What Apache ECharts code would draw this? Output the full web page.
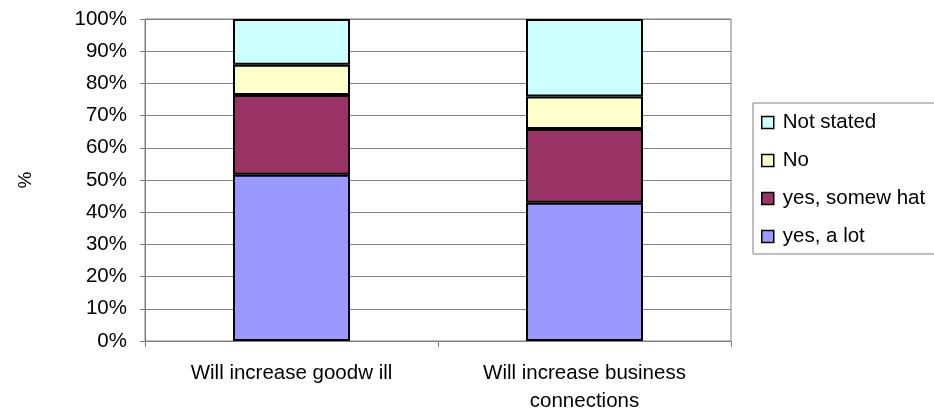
<!DOCTYPE html>
<html>
<head>
<meta charset="utf-8">
<script src="https://cdn.jsdelivr.net/npm/echarts@6/dist/echarts.min.js"></script>
<style>html,body{margin:0;padding:0;background:#fff}#c{width:934px;height:419px}</style>
</head>
<body>
<div id="c"></div>
<script>
var categories = ['Will increase goodw ill', 'Will increase business\nconnections'];
var yesALot = [51.6, 42.9];
var yesSomewhat = [24.8, 22.9];
var no = [9.4, 10.1];
var notStated = [14.2, 24.1];
var seriesNames = ['yes, a lot', 'yes, somew hat', 'No', 'Not stated'];
var legendOrder = ['Not stated', 'No', 'yes, somew hat', 'yes, a lot'];
var colors = ['#9999FF', '#993366', '#FFFFCC', '#CCFFFF'];

var font = 'Liberation Sans, Arial, sans-serif';
var fs = 20.5;
var chart = echarts.init(document.getElementById('c'), null, {renderer: 'canvas'});
var seriesData = [yesALot, yesSomewhat, no, notStated];
var series = seriesData.map(function (d, i) {
  return {
    name: seriesNames[i],
    type: 'bar',
    stack: 'total',
    barWidth: 117,
    data: d,
    itemStyle: {color: colors[i], borderColor: '#000', borderWidth: 2},
    emphasis: {disabled: true}
  };
});
chart.setOption({
  animation: false,
  textStyle: {fontFamily: font},
  grid: {left: 145, right: 203, top: 19, bottom: 78, show: true, borderColor: '#808080', borderWidth: 1, backgroundColor: 'transparent'},
  xAxis: {
    type: 'category',
    data: categories,
    axisLine: {lineStyle: {color: '#808080', width: 1}},
    axisTick: {show: true, length: 6, lineStyle: {color: '#808080'}},
    axisLabel: {color: '#000', fontSize: fs, fontFamily: font, margin: 18, lineHeight: 28}
  },
  yAxis: {
    type: 'value',
    min: 0, max: 100, interval: 10,
    name: '%',
    nameLocation: 'middle',
    nameGap: 110,
    nameRotate: 90,
    nameTextStyle: {color: '#000', fontSize: 19, fontFamily: font},
    axisLine: {show: true, lineStyle: {color: '#808080', width: 1}},
    axisTick: {show: true, length: 5, lineStyle: {color: '#808080'}},
    splitLine: {lineStyle: {color: '#808080', width: 1}},
    axisLabel: {color: '#000', fontSize: fs, fontFamily: font, margin: 18, formatter: '{value}%'}
  },
  legend: {
    orient: 'vertical',
    left: 761,
    top: 112,
    padding: 0,
    itemWidth: 12,
    itemHeight: 12,
    itemGap: 17,
    icon: 'rect',
    data: legendOrder,
    itemStyle: {borderColor: '#000', borderWidth: 1.5},
    textStyle: {color: '#000', fontSize: fs, fontFamily: font, lineHeight: 21, padding: [0, 0, 0, 4]},
    selectedMode: false
  },
  graphic: [{
    type: 'rect',
    shape: {x: 753, y: 103, width: 190, height: 151},
    style: {fill: 'none', stroke: '#808080', lineWidth: 1},
    z: 0
  }],
  series: series
});
</script>
</body>
</html>
